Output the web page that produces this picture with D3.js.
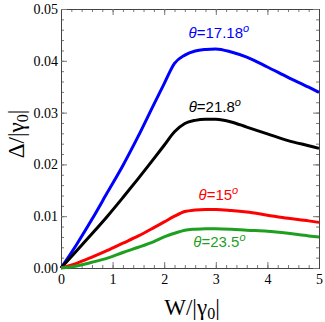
<!DOCTYPE html>
<html><head><meta charset="utf-8">
<script src="https://cdn.jsdelivr.net/npm/d3@7"></script>
<style>body{margin:0;background:#fff}svg{display:block}</style>
</head><body>
<script>
// ---- data ----
const W = [0, 0.3, 0.6, 0.9, 1.2, 1.5, 1.8, 2.0, 2.2, 2.4, 2.6, 2.8, 3.0, 3.3, 3.6, 4.0, 4.4, 4.8, 5.0];
const blue1718 = [0, 0.0045, 0.0094, 0.0146, 0.0198, 0.0255, 0.0316, 0.0356, 0.0395, 0.0411, 0.0419, 0.0422, 0.0423, 0.0417, 0.0407, 0.0388, 0.0368, 0.0349, 0.0339];
const black218 = [0, 0.0033, 0.0066, 0.0100, 0.0136, 0.0173, 0.0211, 0.0237, 0.0263, 0.0279, 0.0285, 0.0287, 0.0287, 0.0282, 0.0272, 0.0259, 0.0246, 0.0236, 0.0231];
const red15 = [0, 0.0009, 0.0021, 0.0034, 0.0048, 0.0062, 0.0078, 0.0089, 0.0100, 0.0109, 0.0112, 0.0113, 0.0113, 0.0111, 0.0108, 0.0102, 0.0096, 0.0091, 0.0088];
const green235 = [0, 0.0004, 0.0011, 0.0019, 0.0030, 0.0040, 0.0051, 0.0060, 0.0067, 0.0073, 0.0075, 0.0076, 0.0076, 0.0075, 0.0073, 0.0071, 0.0067, 0.0062, 0.0060];
const seriesNames = ["17.18", "21.8", "15", "23.5"];
const seriesColors = ["#0000ff", "#000000", "#ff0000", "#1f9f1f"];
const seriesValues = [blue1718, black218, red15, green235];
const labelW = [3.06, 2.98, 3.05, 3.07];
const labelY = [0.0444, 0.0301, 0.0131, 0.0041];
const xTicks = [0, 1, 2, 3, 4, 5];
const yTicks = [0, 0.01, 0.02, 0.03, 0.04, 0.05];

// ---- layout ----
const width = 325, height = 322;
const m = {left: 61, top: 9, right: 6, bottom: 54};
const svg = d3.select("body").append("svg").attr("width", width).attr("height", height);
const x = d3.scaleLinear().domain([0, 5]).range([m.left, width - m.right]);
const y = d3.scaleLinear().domain([0, 0.05]).range([height - m.bottom, m.top]);
const serif = "'Liberation Serif','Times New Roman',serif";
const sans = "'Liberation Sans',Arial,sans-serif";

const xMinor = d3.range(0, 5.0001, 0.2);
const yMinor = d3.range(0, 0.05001, 0.002);

function styleAxis(g) {
  g.select(".domain").attr("stroke", "#444");
  g.selectAll(".tick line").attr("stroke", "#777");
  g.selectAll("text").attr("font-family", serif).attr("font-size", 14).attr("fill", "#000");
}
// bottom
svg.append("g").attr("transform", `translate(0,${y(0)})`)
  .call(d3.axisBottom(x).tickValues(xMinor).tickSize(-3).tickFormat("")).call(styleAxis);
svg.append("g").attr("transform", `translate(0,${y(0)})`)
  .call(d3.axisBottom(x).tickValues(xTicks).tickSize(-6).tickPadding(6).tickFormat(d3.format("d"))).call(styleAxis);
// top
svg.append("g").attr("transform", `translate(0,${y(0.05)})`)
  .call(d3.axisTop(x).tickValues(xMinor).tickSize(-3).tickFormat("")).call(styleAxis);
svg.append("g").attr("transform", `translate(0,${y(0.05)})`)
  .call(d3.axisTop(x).tickValues(xTicks).tickSize(-6).tickFormat("")).call(styleAxis);
// left
svg.append("g").attr("transform", `translate(${x(0)},0)`)
  .call(d3.axisLeft(y).tickValues(yMinor).tickSize(-3).tickFormat("")).call(styleAxis);
svg.append("g").attr("transform", `translate(${x(0)},0)`)
  .call(d3.axisLeft(y).tickValues(yTicks).tickSize(-6).tickPadding(3).tickFormat(d3.format(".2f"))).call(styleAxis);
// right
svg.append("g").attr("transform", `translate(${x(5)},0)`)
  .call(d3.axisRight(y).tickValues(yMinor).tickSize(-3).tickFormat("")).call(styleAxis);
svg.append("g").attr("transform", `translate(${x(5)},0)`)
  .call(d3.axisRight(y).tickValues(yTicks).tickSize(-6).tickFormat("")).call(styleAxis);

// curves
const line = d3.line().x((d, i) => x(W[i])).y(d => y(d)).curve(d3.curveMonotoneX);
seriesValues.forEach((vals, k) => {
  svg.append("path").datum(vals).attr("d", line)
    .attr("fill", "none").attr("stroke", seriesColors[k]).attr("stroke-width", 3)
    .attr("stroke-linejoin", "round");
});

// labels
seriesNames.forEach((name, k) => {
  const t = svg.append("text").attr("x", x(labelW[k])).attr("y", y(labelY[k]))
    .attr("text-anchor", "middle").attr("font-family", sans).attr("font-size", 15)
    .attr("fill", seriesColors[k]);
  t.append("tspan").attr("font-style", "italic").text("θ");
  t.append("tspan").text("=" + name);
  t.append("tspan").attr("font-style", "italic").attr("font-size", 11).attr("dy", -6).text("o");
});

// axis titles
const xt = svg.append("text").attr("x", 192).attr("y", 315).attr("text-anchor", "middle")
  .attr("font-family", serif).attr("font-size", 23).attr("fill", "#000");
xt.append("tspan").text("W/|γ");
xt.append("tspan").attr("font-size", 16).attr("dy", 4).text("0");
xt.append("tspan").attr("dy", -4).text("|");

const yt = svg.append("text").attr("transform", "translate(24,134) rotate(-90)").attr("text-anchor", "middle")
  .attr("font-family", serif).attr("font-size", 23).attr("fill", "#000");
yt.append("tspan").text("Δ/|γ");
yt.append("tspan").attr("font-size", 16).attr("dy", 4).text("0");
yt.append("tspan").attr("dy", -4).text("|");
</script>
</body></html>
